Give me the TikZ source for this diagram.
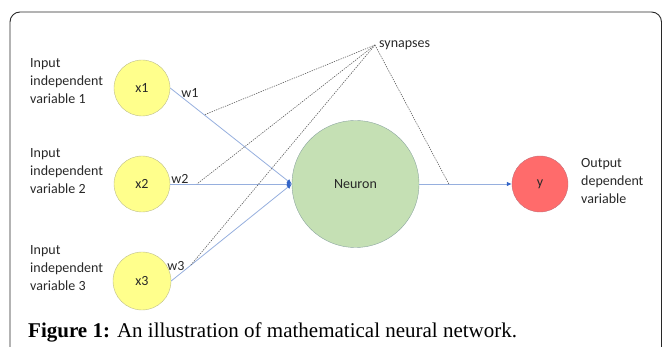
\documentclass[tikz,border=0pt]{standalone}
\usepackage{fontspec}
\setmainfont{Liberation Serif}
\newfontfamily\calib{Carlito}
\usetikzlibrary{arrows.meta,calc}
\definecolor{inyellow}{RGB}{255,255,140}
\definecolor{inborder}{RGB}{190,190,140}
\definecolor{neugreen}{RGB}{197,224,180}
\definecolor{neuborder}{RGB}{140,165,160}
\definecolor{outred}{RGB}{255,107,107}
\definecolor{outborder}{RGB}{200,110,120}
\definecolor{linkblue}{RGB}{150,175,222}
\definecolor{tipblue}{RGB}{50,100,200}
\definecolor{txt}{RGB}{40,40,40}
\begin{document}
\begin{tikzpicture}[x=1pt,y=-1pt,
  lbl/.style={font=\calib\fontsize{14}{18}\selectfont, text=txt, inner sep=0pt},
  inbox/.style={lbl, align=left, anchor=west},
  incirc/.style={circle, draw=inborder, fill=inyellow, minimum size=56pt, inner sep=0pt, lbl},
  neucirc/.style={circle, draw=neuborder, fill=neugreen, minimum size=127pt, inner sep=0pt, lbl},
  outcirc/.style={circle, draw=outborder, fill=outred, minimum size=56pt, inner sep=0pt, lbl},
  link/.style={draw=linkblue, line width=0.8pt},
  arr/.style={link, -{Latex[length=5pt,width=4.5pt,color=tipblue]}},
  syn/.style={draw=txt!75, line width=0.6pt, dash pattern=on 1.3pt off 1.1pt},
  frame/.style={draw=txt, line width=0.9pt, rounded corners=10pt}
]
\useasboundingbox (0,0) rectangle (662,347);
\draw[frame] (10,380) -- (10,12) -- (661.5,12) -- (661.5,380);

\node[incirc] (x1) at (142,88) {x1};
\node[incirc] (x2) at (142,184) {x2};
\node[incirc, minimum size=58pt] (x3) at (142,281) {x3};
\node[neucirc] (neuron) at (355.5,184) {Neuron};
\node[outcirc] (y) at (540,184) {y};

\node[inbox] (t1) at (30,81) {Input\\independent\\variable 1};
\node[inbox] (t2) at (30,171) {Input\\independent\\variable 2};
\node[inbox] (t3) at (30,268) {Input\\independent\\variable 3};
\node[inbox] (t4) at (581,181) {Output\\dependent\\variable};

\draw[arr] (x1.east) -- (neuron.west);
\draw[arr] (x2.east) -- (neuron.west);
\draw[arr] (x3.east) -- (neuron.west);
\draw[arr] (neuron.east) -- (y.west);

\node[lbl] (w1) at (190,93) {w1};
\node[lbl] (w2) at (180,179) {w2};
\node[lbl] (w3) at (176,266) {w3};

\coordinate (S) at (375,45);
\node[lbl, anchor=west] (synlbl) at (379,45) {synapses};
\coordinate (s1) at ($(x1.east)!0.28!(neuron.west)$);
\coordinate (s2) at ($(x2.east)!0.22!(neuron.west)$);
\coordinate (s3) at ($(x3.east)!0.16!(neuron.west)$);
\coordinate (s4) at ($(neuron.east)!0.32!(y.west)$);
\draw[syn] (S) -- (s1);
\draw[syn] (S) -- (s2);
\draw[syn] (S) -- (s3);
\draw[syn] (S) -- (s4);

\node[anchor=base west, inner sep=0pt, font=\fontsize{21}{24}\selectfont, text=black] (cap) at (28,338)
  {\textbf{Figure 1:} An illustration of mathematical neural network.};
\end{tikzpicture}
\end{document}
